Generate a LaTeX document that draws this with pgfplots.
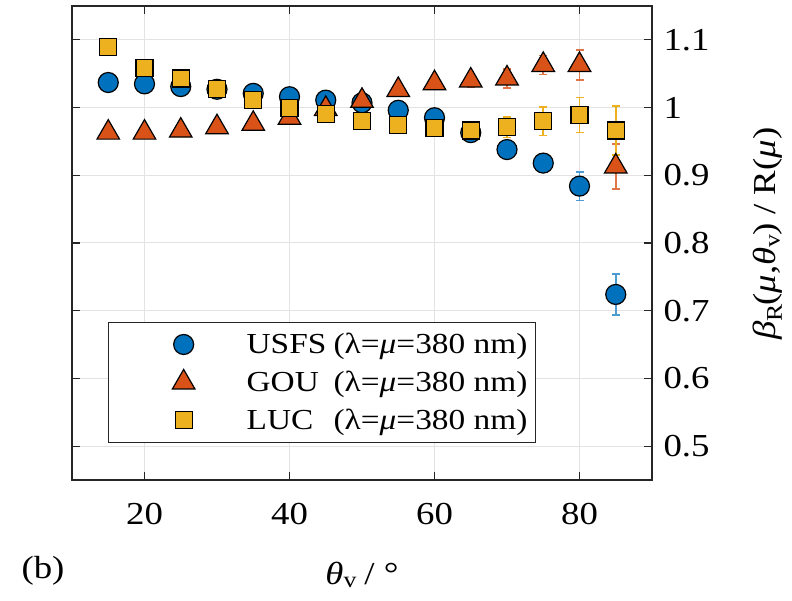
\documentclass[border=0pt]{standalone}
\usepackage{fontspec}
\setmainfont{Liberation Serif}[FakeStretch=1.15]
\usepackage{pgfplots}
\pgfplotsset{compat=1.18}
\usepackage{pgfplotstable}

\definecolor{mblue}{rgb}{0,0.447,0.741}
\definecolor{morange}{rgb}{0.85,0.325,0.098}
\definecolor{myellow}{rgb}{0.929,0.694,0.125}
\definecolor{axgray}{rgb}{0.15,0.15,0.15}

% theta, value, error
\pgfplotstableread{
x y e
15 1.037 0.004
20 1.035 0.004
25 1.031 0.004
30 1.027 0.004
35 1.021 0.005
40 1.016 0.005
45 1.011 0.005
50 1.007 0.005
55 0.996 0.005
60 0.985 0.006
65 0.963 0.007
70 0.938 0.008
75 0.918 0.011
80 0.884 0.021
85 0.724 0.030
}\usfs
\pgfplotstableread{
x y e
15 0.963 0.004
20 0.963 0.004
25 0.966 0.004
30 0.971 0.005
35 0.976 0.005
40 0.985 0.006
45 0.998 0.006
50 1.010 0.007
55 1.026 0.007
60 1.036 0.008
65 1.040 0.010
70 1.043 0.014
75 1.063 0.014
80 1.063 0.022
85 0.913 0.033
}\gou
\pgfplotstableread{
x y e
15 1.089 0.004
20 1.059 0.005
25 1.043 0.005
30 1.027 0.005
35 1.011 0.006
40 0.999 0.007
45 0.990 0.007
50 0.980 0.008
55 0.974 0.008
60 0.970 0.010
65 0.966 0.011
70 0.971 0.015
75 0.980 0.021
80 0.989 0.026
85 0.966 0.036
}\luc

\begin{document}
\begin{tikzpicture}
\useasboundingbox (0,0) rectangle (792pt,601pt);
\begin{axis}[
    at={(72pt,121pt)}, anchor=south west,
    scale only axis,
    width=580pt, height=474pt,
    xmin=10, xmax=90, ymin=0.45, ymax=1.15,
    xtick={20,40,60,80},
    ytick={0.5,0.6,0.7,0.8,0.9,1,1.1},
    yticklabel pos=right,
    tick align=inside,
    major tick length=8pt,
    xticklabel style={yshift=-20pt},
    yticklabel style={xshift=8pt},
    /pgf/number format/assume math mode=true,
    font=\fontsize{32}{37}\selectfont,
    axis line style={axgray, line width=1.6pt},
    every tick/.style={axgray, line width=1.2pt},
    grid=major,
    grid style={gray!22, line width=1pt},
    xlabel={\textit{θ}$_{\mathrm{v}}$ / °},
    xlabel style={at={(axis description cs:0.5,-0.2)}, anchor=center},
    ylabel={\textit{β}$_{\mathrm{R}}$(\textit{μ},\textit{θ}$_{\mathrm{v}}$) / R(\textit{μ})},
    ylabel style={at={(axis description cs:1.2,0.52)}, anchor=center},
    legend style={at={(axis description cs:0.062,0.078)}, anchor=south west,
        draw=axgray, line width=1.4pt, font=\fontsize{29}{34}\selectfont,
        nodes={inner sep=2pt}, row sep=12pt, inner xsep=6pt, inner ysep=9pt},
    legend cell align=left,
    legend image code/.code={\path[draw=none] (0pt,0pt) -- (130pt,0pt);
        \draw[#1] plot coordinates {(69pt,0pt)};},
    error bars/y dir=both, error bars/y explicit,
]
\addplot[only marks, mark=*, mark size=10pt, mark options={fill=mblue, draw=black, line width=1.2pt},
    error bars/error bar style={color=mblue!70, line width=1.6pt},
    error bars/error mark options={rotate=90, mark size=4pt, color=mblue!70, line width=1.6pt}]
    table[x=x, y=y, y error=e] {\usfs};
\addlegendentry{\makebox[87pt][l]{USFS}(λ=\textit{μ}=380 nm)}
\addplot[only marks, mark=triangle*, mark size=13pt, mark options={fill=morange, draw=black, line width=1.2pt},
    error bars/error bar style={color=morange!80, line width=1.6pt},
    error bars/error mark options={rotate=90, mark size=4pt, color=morange!80, line width=1.6pt}]
    table[x=x, y=y, y error=e] {\gou};
\addlegendentry{\makebox[87pt][l]{GOU}(λ=\textit{μ}=380 nm)}
\addplot[only marks, mark=square*, mark size=8.5pt, mark options={fill=myellow, draw=black, line width=1.2pt},
    error bars/error bar style={color=myellow, line width=1.6pt},
    error bars/error mark options={rotate=90, mark size=4pt, color=myellow, line width=1.6pt}]
    table[x=x, y=y, y error=e] {\luc};
\addlegendentry{\makebox[87pt][l]{LUC}(λ=\textit{μ}=380 nm)}
\end{axis}
\node[font=\fontsize{32}{37}\selectfont, anchor=west] at (18pt,30pt) {(b)};
\end{tikzpicture}
\end{document}
